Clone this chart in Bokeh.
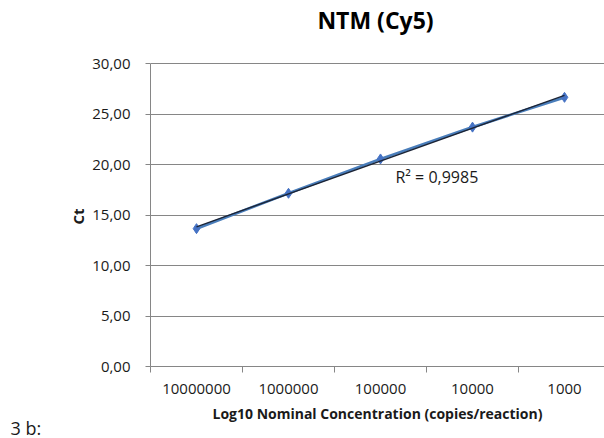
import numpy as np
from bokeh.plotting import figure
from bokeh.models import Range1d, FixedTicker, Label, ColumnDataSource, Title
from bokeh.embed import file_html
from bokeh.resources import INLINE

# ---- data ----
concentrations = ["10000000", "1000000", "100000", "10000", "1000"]
ct_values = [13.65, 17.15, 20.55, 23.70, 26.65]
y_ticks = [0, 5, 10, 15, 20, 25, 30]
y_tick_labels = ["0,00", "5,00", "10,00", "15,00", "20,00", "25,00", "30,00"]
r2_text = "R² = 0,9985"
title_text = "NTM (Cy5)"
x_title = "Log10 Nominal Concentration (copies/reaction)"
y_title = "Ct"
panel_text = "3 b:"

positions = list(range(1, len(concentrations) + 1))
slope, intercept = np.polyfit(positions, ct_values, 1)
trend_x = [positions[0], positions[-1]]
trend_y = [slope * v + intercept for v in trend_x]

FONT = "Open Sans"
GRID = "#868686"
TXT = "#1a1a1a"

# frame spans page y 0..366; axis value 0..30 occupies 366..63
y_top = y_ticks[-1] * 366 / 303

p = figure(width=604, height=438, output_backend="svg", toolbar_location=None,
           title_location=None,
           x_range=Range1d(0.5, 0.5 + 454 / 92), y_range=Range1d(0, y_top),
           min_border_left=150, min_border_right=0, min_border_top=0,
           min_border_bottom=72)
p.outline_line_color = None
p.background_fill_color = "white"
p.border_fill_color = "white"

# y axis
p.yaxis.bounds = (y_ticks[0], y_ticks[-1])
p.yaxis.ticker = FixedTicker(ticks=y_ticks)
p.yaxis.major_label_overrides = {t: l for t, l in zip(y_ticks, y_tick_labels)}
p.yaxis.axis_line_color = GRID
p.yaxis.major_tick_line_color = GRID
p.yaxis.major_tick_out = 5
p.yaxis.major_tick_in = 0
p.yaxis.minor_tick_line_color = None
p.yaxis.major_label_standoff = 15
p.yaxis.major_label_text_font = FONT
p.yaxis.major_label_text_font_size = "15px"
p.yaxis.major_label_text_color = TXT

# y axis title, centred on the 0..30 span (page y ~215)
p.add_layout(Title(text=y_title, align="left", offset=142, standoff=4,
                   vertical_align="bottom",
                   text_font=FONT, text_font_size="15px",
                   text_font_style="bold", text_color=TXT), "left")

# x axis (categories at integer positions, tick marks between them)
p.xaxis.ticker = FixedTicker(ticks=positions,
                             minor_ticks=[v - 0.5 for v in positions] + [positions[-1] + 0.5])
p.xaxis.major_label_overrides = {v: c for v, c in zip(positions, concentrations)}
p.xaxis.axis_line_color = GRID
p.xaxis.major_tick_line_color = None
p.xaxis.major_tick_out = 0
p.xaxis.major_tick_in = 0
p.xaxis.minor_tick_line_color = GRID
p.xaxis.minor_tick_out = 6
p.xaxis.minor_tick_in = 0
p.xaxis.major_label_standoff = 11
p.xaxis.major_label_text_font = FONT
p.xaxis.major_label_text_font_size = "15px"
p.xaxis.major_label_text_color = TXT
p.xaxis.axis_label = x_title
p.xaxis.axis_label_text_font = FONT
p.xaxis.axis_label_text_font_style = "bold"
p.xaxis.axis_label_text_font_size = "14px"
p.xaxis.axis_label_text_color = TXT
p.xaxis.axis_label_standoff = 7

p.xgrid.visible = False
p.ygrid.ticker = FixedTicker(ticks=y_ticks)
p.ygrid.bounds = (y_ticks[0], y_ticks[-1])
p.ygrid.grid_line_color = GRID

src = ColumnDataSource(dict(x=positions, y=ct_values))
p.line("x", "y", source=src, line_color="#4A7EBB", line_width=2.75)
p.scatter("x", "y", source=src, marker="diamond", size=10,
          fill_color="#4572C4", line_color="#4572C4")
p.line(trend_x, trend_y, line_color="#1B2436", line_width=1.3)

p.add_layout(Label(x=3.163, y=18.81, text=r2_text, text_font=FONT,
                   text_font_size="16px", text_color=TXT,
                   text_baseline="middle", text_align="left"))
p.add_layout(Label(x=0.5 + (375 - 150) / 92, y=(366 - 19) / 10.1, text=title_text,
                   text_font=FONT, text_font_size="23px", text_font_style="bold",
                   text_color="black", text_baseline="middle", text_align="center"))

p.add_layout(Title(text=panel_text, align="left", offset=-140, standoff=-24,
                   vertical_align="bottom",
                   text_font=FONT, text_font_size="18px",
                   text_font_style="normal", text_color=TXT), "below")

open("out.html", "w").write(file_html(p, INLINE))
